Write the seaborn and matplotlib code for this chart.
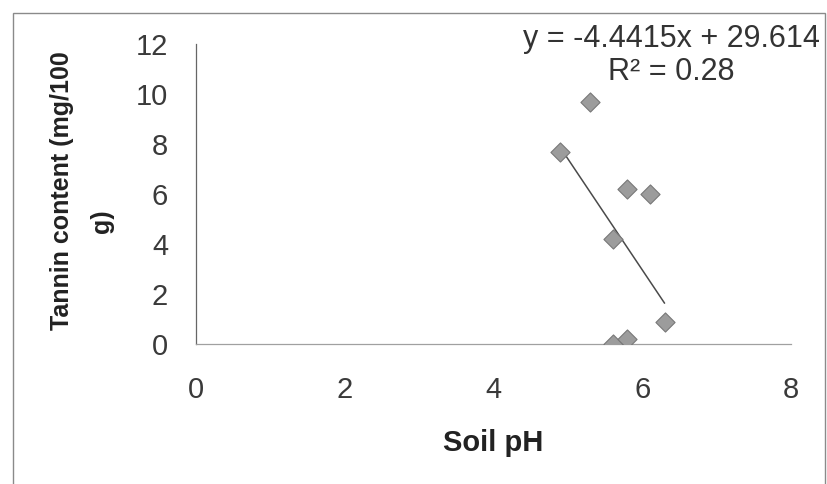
import matplotlib
matplotlib.use("Agg")
import matplotlib.pyplot as plt
from matplotlib.patches import Rectangle
import numpy as np
import pandas as pd
import seaborn as sns

# Soil pH and tannin content of the samples
soil_ph = [5.3, 4.9, 5.8, 6.1, 5.6, 6.3, 5.6, 5.8]
tannin = [9.7, 7.7, 6.2, 6.0, 4.2, 0.9, 0.0, 0.2]

# Linear trendline coefficients and fit quality
slope = -4.4415
intercept = 29.614
r_squared = 0.28

x_ticks = [0, 2, 4, 6, 8]
y_ticks = [0, 2, 4, 6, 8, 10, 12]

sns.set_theme(style="white")
plt.rcParams["font.family"] = ["Liberation Sans", "DejaVu Sans"]

df = pd.DataFrame({"Soil pH": soil_ph, "Tannin": tannin})

W, H = 827, 484
fig = plt.figure(figsize=(W / 100, H / 100), dpi=100)
ax = fig.add_axes([196 / W, 1 - 344 / H, (791 - 196) / W, (344 - 44) / H])

# Outer chart frame
fig.patches.append(Rectangle((13 / W, -0.05), (825 - 13) / W, 1 - 13 / H + 0.05,
                             transform=fig.transFigure, fill=False,
                             edgecolor="#8a8a8a", linewidth=1.0))

# Trendline over the range of the data
trend_x = np.array([min(soil_ph), max(soil_ph)])
trend = pd.DataFrame({"x": trend_x, "y": slope * trend_x + intercept})
sns.lineplot(data=trend, x="x", y="y", ax=ax, color="#4a4a4a", linewidth=1.1, zorder=3)

sns.scatterplot(data=df, x="Soil pH", y="Tannin", ax=ax, marker="D", s=95,
                color="#9c9c9c", edgecolor="#787878", linewidth=0.8, zorder=4)

ax.set_xlim(0, 8)
ax.set_ylim(0, 12)
ax.set_xticks(x_ticks)
ax.set_yticks(y_ticks)
ax.set_xticklabels([str(t) for t in x_ticks])
ax.set_yticklabels([str(t) for t in y_ticks])

for side in ("top", "right"):
    ax.spines[side].set_visible(False)
ax.spines["left"].set_color("#666666")
ax.spines["left"].set_linewidth(0.9)
ax.spines["bottom"].set_color("#a0a0a0")
ax.spines["bottom"].set_linewidth(0.9)

ax.tick_params(axis="both", direction="out", length=6, width=0.8,
               colors="#808080", labelcolor="#3a3a3a", labelsize=21)
ax.tick_params(axis="x", pad=17)
ax.tick_params(axis="y", pad=14)
ax.grid(False)

ax.set_xlabel("Soil pH", fontsize=21, fontweight="bold", color="#222222", labelpad=18)
ax.set_ylabel("")

# Wrapped axis title, drawn as two rotated lines
fig.text(62 / W, 1 - 191 / H, "Tannin content (mg/100", rotation=90, ha="center",
         va="center", fontsize=18, fontweight="bold", color="#222222")
fig.text(102 / W, 1 - 221 / H, "g)", rotation=90, ha="center",
         va="center", fontsize=18, fontweight="bold", color="#222222")

fig.text(671 / W, 1 - 47 / H, f"y = {slope}x + {intercept}", ha="center",
         va="baseline", fontsize=22, color="#333333")
fig.text(671 / W, 1 - 80 / H, f"R² = {r_squared}", ha="center",
         va="baseline", fontsize=22, color="#333333")

fig.savefig("out.png", dpi=100)
